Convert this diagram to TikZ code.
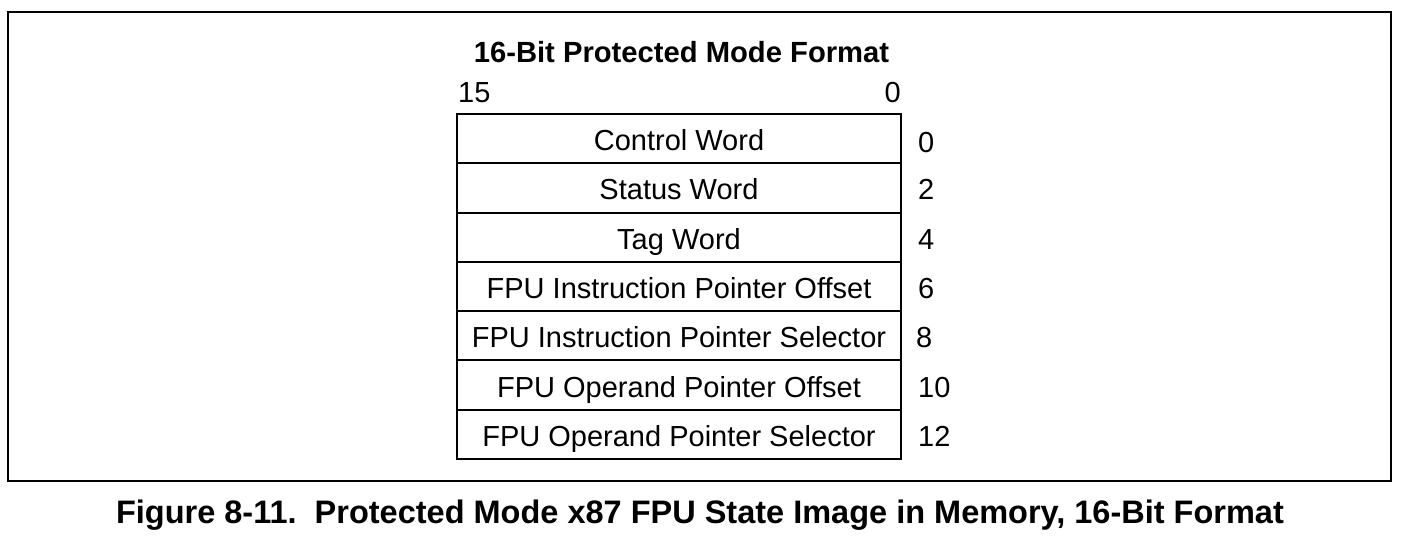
\documentclass[tikz,border=0pt]{standalone}
\usepackage{fontspec}
\setmainfont{Liberation Sans}
\usetikzlibrary{positioning}
\begin{document}
\begin{tikzpicture}[x=1pt,y=-1pt,
  frame/.style={draw,line width=2pt,minimum width=1383pt,minimum height=469pt,inner sep=0pt},
  cell/.style={draw,line width=2pt,minimum width=444pt,minimum height=49.3pt,inner sep=0pt,outer sep=0pt,
    font=\fontsize{29}{34}\selectfont,text height=24pt,text depth=0pt},
  off/.style={anchor=west,inner sep=0pt,font=\fontsize{29}{34}\selectfont,text height=24pt,text depth=0pt},
  bit/.style={inner sep=0pt,font=\fontsize{29}{34}\selectfont,text height=20.8pt,text depth=0pt},
  heading/.style={inner sep=0pt,font=\bfseries\fontsize{29.2}{34}\selectfont},
  caption/.style={inner sep=0pt,font=\bfseries\fontsize{32.5}{38}\selectfont}]
\useasboundingbox (0,0) rectangle (1403,544);
% outer frame
\node[frame] (box) at (699.5,246.5) {};
% heading and bit numbers
\node[heading] (title) at (681.5,52) {16-Bit Protected Mode Format};
\node[bit,anchor=west] (b15) at (458,92) {15};
\node[bit,anchor=east] (b0) at (901,92) {0};
% memory layout rows
\node[cell] (r0) at (679,138.6) {Control Word};
\node[cell,below=0pt of r0] (r1) {Status Word};
\node[cell,below=0pt of r1] (r2) {Tag Word};
\node[cell,below=0pt of r2] (r3) {FPU Instruction Pointer Offset};
\node[cell,below=0pt of r3] (r4) {FPU Instruction Pointer Selector};
\node[cell,below=0pt of r4] (r5) {FPU Operand Pointer Offset};
\node[cell,below=0pt of r5] (r6) {FPU Operand Pointer Selector};
% byte offsets
\node[off] (o0) at ([xshift=17pt,yshift=-2pt]r0.east) {0};
\node[off] (o1) at ([xshift=17pt]r1.east) {2};
\node[off] (o2) at ([xshift=17pt]r2.east) {4};
\node[off] (o3) at ([xshift=17pt]r3.east) {6};
\node[off] (o4) at ([xshift=15pt]r4.east) {8};
\node[off] (o5) at ([xshift=17pt]r5.east) {10};
\node[off] (o6) at ([xshift=17pt]r6.east) {12};
% caption
\node[caption] (cap) at (700,515) {Figure 8-11.\ \ Protected Mode x87 FPU State Image in Memory, 16-Bit Format};
\end{tikzpicture}
\end{document}
